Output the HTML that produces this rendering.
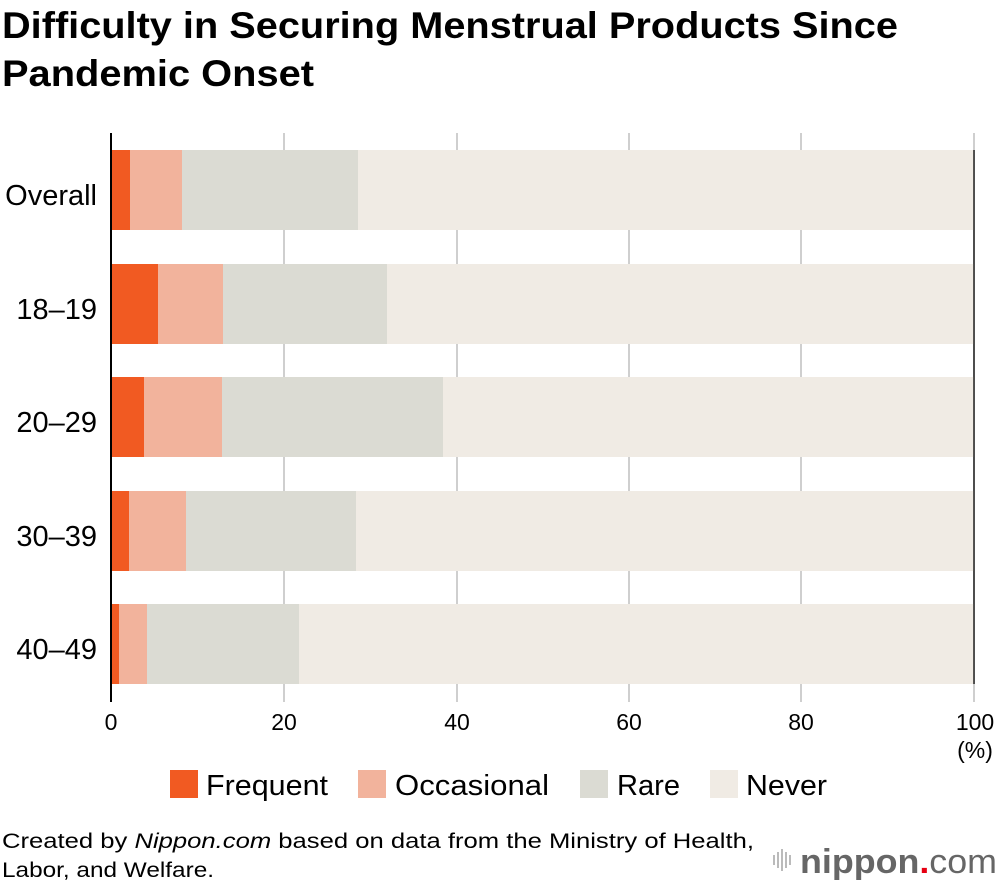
<!DOCTYPE html>
<html><head><meta charset="utf-8"><style>
body{margin:0;background:#fff;width:1000px;height:888px;overflow:hidden;font-family:"Liberation Sans",sans-serif}
</style></head><body>
<svg width="1000" height="888" xmlns="http://www.w3.org/2000/svg" font-family="Liberation Sans, sans-serif">
<text x="2" y="38" font-size="37" font-weight="bold" fill="#000" textLength="896" lengthAdjust="spacingAndGlyphs">Difficulty in Securing Menstrual Products Since</text>
<text x="2" y="86" font-size="37" font-weight="bold" fill="#000" textLength="312" lengthAdjust="spacingAndGlyphs">Pandemic Onset</text>
<g stroke="#cfcfcf" stroke-width="2">
<line x1="284" y1="133" x2="284" y2="702"/><line x1="457" y1="133" x2="457" y2="702"/>
<line x1="629" y1="133" x2="629" y2="702"/><line x1="801" y1="133" x2="801" y2="702"/>
<line x1="974" y1="133" x2="974" y2="702"/>
</g>
<g>
<rect x="111" y="150" width="863" height="80" fill="#f0ebe4"/><rect x="111" y="150" width="247" height="80" fill="#dbdbd3"/><rect x="111" y="150" width="71" height="80" fill="#f2b39c"/><rect x="111" y="150" width="19" height="80" fill="#f15a22"/>
<rect x="111" y="264" width="863" height="80" fill="#f0ebe4"/><rect x="111" y="264" width="276" height="80" fill="#dbdbd3"/><rect x="111" y="264" width="112" height="80" fill="#f2b39c"/><rect x="111" y="264" width="47" height="80" fill="#f15a22"/>
<rect x="111" y="377" width="863" height="80" fill="#f0ebe4"/><rect x="111" y="377" width="332" height="80" fill="#dbdbd3"/><rect x="111" y="377" width="111" height="80" fill="#f2b39c"/><rect x="111" y="377" width="33" height="80" fill="#f15a22"/>
<rect x="111" y="491" width="863" height="80" fill="#f0ebe4"/><rect x="111" y="491" width="245" height="80" fill="#dbdbd3"/><rect x="111" y="491" width="75" height="80" fill="#f2b39c"/><rect x="111" y="491" width="18" height="80" fill="#f15a22"/>
<rect x="111" y="604" width="863" height="80" fill="#f0ebe4"/><rect x="111" y="604" width="188" height="80" fill="#dbdbd3"/><rect x="111" y="604" width="36" height="80" fill="#f2b39c"/><rect x="111" y="604" width="8" height="80" fill="#f15a22"/>
</g>
<line x1="974" y1="150" x2="974" y2="684" stroke="#222" stroke-width="1.5"/>
<line x1="111" y1="133" x2="111" y2="702" stroke="#000" stroke-width="2"/>
<g font-size="29" fill="#000" text-anchor="end">
<text x="97" y="205">Overall</text><text x="97" y="319">18–19</text><text x="97" y="432">20–29</text><text x="97" y="546">30–39</text><text x="97" y="659">40–49</text>
</g>
<g font-size="23" fill="#000" text-anchor="middle">
<text x="111" y="730">0</text><text x="284" y="730">20</text><text x="457" y="730">40</text><text x="629" y="730">60</text><text x="801" y="730">80</text><text x="975" y="730">100</text>
<text x="975" y="758">(%)</text>
</g>
<g font-size="29" fill="#000">
<rect x="170" y="770" width="28" height="28" fill="#f15a22"/><text x="206" y="795" textLength="122" lengthAdjust="spacingAndGlyphs">Frequent</text>
<rect x="358" y="770" width="28" height="28" fill="#f2b39c"/><text x="395" y="795" textLength="154" lengthAdjust="spacingAndGlyphs">Occasional</text>
<rect x="580" y="770" width="28" height="28" fill="#dbdbd3"/><text x="617" y="795" textLength="63" lengthAdjust="spacingAndGlyphs">Rare</text>
<rect x="710" y="770" width="28" height="28" fill="#f0ebe4"/><text x="746" y="795" textLength="81" lengthAdjust="spacingAndGlyphs">Never</text>
</g>
<g font-size="21" fill="#000">
<text x="2" y="848" textLength="752" lengthAdjust="spacingAndGlyphs">Created by <tspan font-style="italic">Nippon.com</tspan> based on data from the Ministry of Health,</text>
<text x="2" y="877" textLength="212" lengthAdjust="spacingAndGlyphs">Labor, and Welfare.</text>
</g>
<g fill="#bbb">
<rect x="773" y="855" width="2" height="10"/><rect x="777" y="852" width="2" height="16"/><rect x="781" y="849" width="2" height="22"/><rect x="785" y="852" width="2" height="16"/><rect x="789" y="855" width="2" height="10"/>
</g>
<text x="800" y="873" font-size="34" fill="#666" font-weight="bold" textLength="197" lengthAdjust="spacingAndGlyphs">nippon<tspan fill="#e60012">.</tspan><tspan font-weight="normal">com</tspan></text>
</svg>
</body></html>
